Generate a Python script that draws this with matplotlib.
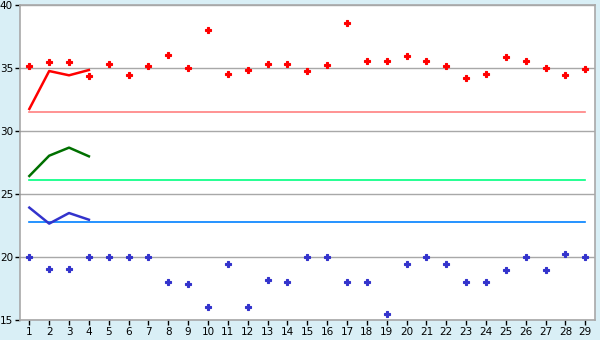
import matplotlib
matplotlib.use("Agg")
import matplotlib.pyplot as plt

days = list(range(1, 30))

# scattered readings
red_points = [35.13, 35.45, 35.45, 34.34, 35.29, 34.42, 35.13, 36.01, 35.0, 38.0,
              34.5, 34.82, 35.29, 35.29, 34.74, 35.21, 38.55, 35.53, 35.53, 35.93,
              35.53, 35.13, 34.18, 34.5, 35.85, 35.53, 35.0, 34.42, 34.9]
blue_points = [20.0, 19.02, 19.02, 20.0, 20.0, 20.0, 20.0, 18.0, 17.83, 16.03,
               19.42, 16.03, 18.15, 18.0, 20.0, 20.0, 18.0, 18.0, 15.45, 19.42,
               20.0, 19.42, 18.0, 18.0, 19.0, 20.0, 19.0, 20.21, 20.0]

# short lines for the first four days
line_days = [1, 2, 3, 4]
red_line = [31.75, 34.76, 34.42, 34.84]
green_line = [26.43, 28.04, 28.68, 27.99]
blue_line = [23.92, 22.65, 23.49, 22.96]

# flat reference levels
red_level = 31.48
green_level = 26.08
blue_level = 22.75

bg = '#d9eff6'
fig = plt.figure(figsize=(6, 3.4), dpi=100, facecolor=bg)
ax = fig.add_axes([20/600, 20/340, 575/600, 315/340])
ax.set_facecolor('white')

ax.plot([days[0], days[-1]], [red_level] * 2, color='#ff8080', lw=1.2)
ax.plot([days[0], days[-1]], [green_level] * 2, color='#00ff80', lw=1.2)
ax.plot([days[0], days[-1]], [blue_level] * 2, color='#0080ff', lw=1.2)

ax.plot(line_days, red_line, color='#ff0000', lw=1.8)
ax.plot(line_days, green_line, color='#007000', lw=1.8)
ax.plot(line_days, blue_line, color='#3333cc', lw=1.8)

# small chunky crosses
ax.plot(days, red_points, ls='none', marker='P', ms=4.2, color='#ff0000', mew=0.8)
ax.plot(days, blue_points, ls='none', marker='P', ms=4.2, color='#3333cc', mew=0.8)

ax.set_xlim(0.53, 29.49)
ax.set_ylim(15, 40)
ax.set_xticks(days)
ax.set_yticks([15, 20, 25, 30, 35, 40])
ax.yaxis.grid(True, color='#a8a8a8', lw=1)
ax.set_axisbelow(True)
for s in ax.spines.values():
    s.set_color('#a8a8a8')
    s.set_linewidth(1.2)
ax.tick_params(axis='both', colors='black', labelsize=7.5, length=3.5, width=1, pad=1.5)

fig.savefig('out.png', dpi=100, facecolor=bg)
